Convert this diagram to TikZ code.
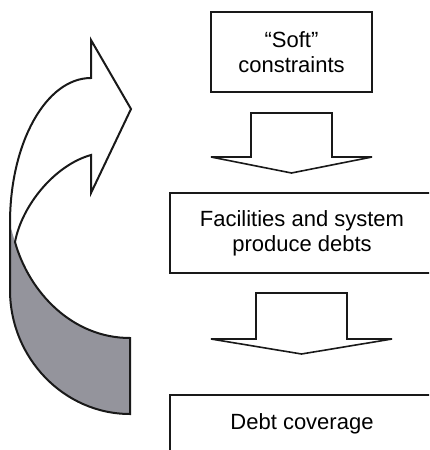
\documentclass[tikz,border=0pt]{standalone}
\usepackage{fontspec}
\setmainfont{Liberation Sans}
\begin{document}
\begin{tikzpicture}[x=1pt,y=-1pt,
  ink/.style={line width=1.6pt,draw=black!90,line join=miter},
  labelbox/.style={ink,fill=white,inner sep=0pt,align=center,
    font=\fontsize{22}{25}\selectfont},
  blockarrow/.style={ink,fill=white},
  backface/.style={fill=black!40!white!97!blue}
]
\useasboundingbox (0,0) rectangle (429,450);
\clip (0,0) rectangle (429,450);

% stages of the cycle
\node[labelbox,minimum width=161pt,minimum height=80pt] (soft) at (291.5,52)
  {“Soft”\\constraints};
\node[labelbox,minimum width=264pt,minimum height=80pt] (facilities) at (302,233)
  {Facilities and system\\produce debts};
\node[labelbox,minimum width=264pt,minimum height=58pt] (coverage) at (302,424)
  {Debt coverage};

% downward block arrows between the stages
\draw[blockarrow] (251,113) -- (332,113) -- (332,157) -- (372,157)
  -- (291.5,173) -- (211,157) -- (251,157) -- cycle;
\draw[blockarrow] (256,293) -- (347,293) -- (347,339) -- (392,339)
  -- (301.5,354) -- (211,339) -- (256,339) -- cycle;

% curved feedback arrow: shaded back face
\fill[backface] (10,225) -- (15,242)
  .. controls (29,292) and (72,338) .. (130,338)
  -- (130,414)
  .. controls (64,414) and (10,358) .. (10,290) -- cycle;

% curved feedback arrow: outline
\draw[ink,line width=2pt] (131,109) -- (91,193) -- (91,155)
  .. controls (55,165) and (22,205) .. (15,242)
  .. controls (29,292) and (72,338) .. (130,338)
  -- (130,414)
  .. controls (64,414) and (10,358) .. (10,290)
  -- (10,223)
  .. controls (10,143) and (46,78) .. (91,78)
  -- (91,40) -- cycle;
\end{tikzpicture}
\end{document}
